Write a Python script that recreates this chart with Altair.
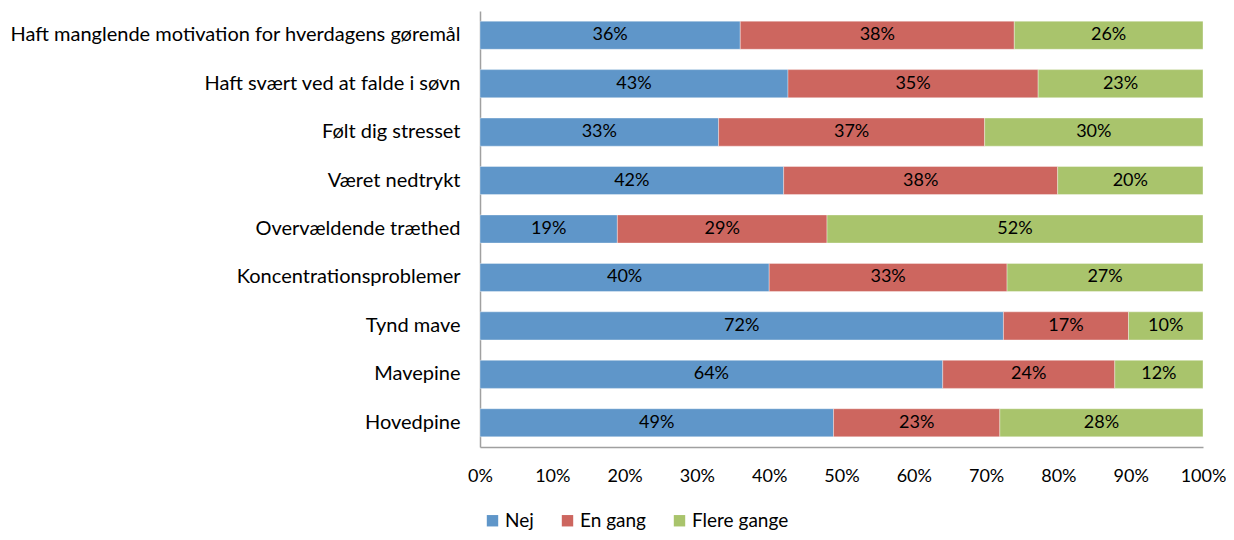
import altair as alt
import pandas as pd

categories = [
    "Haft manglende motivation for hverdagens gøremål",
    "Haft svært ved at falde i søvn",
    "Følt dig stresset",
    "Været nedtrykt",
    "Overvældende træthed",
    "Koncentrationsproblemer",
    "Tynd mave",
    "Mavepine",
    "Hovedpine",
]
series = ["Nej", "En gang", "Flere gange"]
nej = [36.0, 42.6, 33.0, 42.0, 19.0, 40.0, 72.4, 64.0, 48.9]
en_gang = [37.9, 34.6, 36.8, 37.9, 29.0, 32.9, 17.3, 23.8, 23.0]
flere_gange = [26.1, 22.8, 30.2, 20.1, 52.0, 27.1, 10.3, 12.2, 28.1]
colors = ["#5F96C9", "#CD665F", "#A9C46C"]
x_ticks = [0, 10, 20, 30, 40, 50, 60, 70, 80, 90, 100]

rows = []
for s_i, (name, vals) in enumerate(zip(series, [nej, en_gang, flere_gange])):
    for c, v in zip(categories, vals):
        rows.append({"cat": c, "serie": name, "order": s_i, "value": v,
                     "label": f"{int(round(v))}%"})
df = pd.DataFrame(rows)

FONT = "Lato"

base = alt.Chart(df).transform_stack(
    stack="value", groupby=["cat"], as_=["x0", "x1"],
    sort=[alt.SortField("order", order="ascending")]
).transform_calculate(mid="(datum.x0 + datum.x1) / 2")

y_enc = alt.Y("cat:N", sort=categories, title=None,
              scale=alt.Scale(paddingInner=0.42, paddingOuter=0.21),
              axis=alt.Axis(ticks=False, labelFontSize=20, labelFont=FONT,
                            labelColor="#000000", labelPadding=20,
                            domainColor="#A0A0A0", domainWidth=1.5,
                            labelLimit=600))

bars = base.mark_bar(stroke="#ffffff", strokeWidth=0.6, strokeOpacity=0.6).encode(
    x=alt.X("x0:Q", title=None,
            scale=alt.Scale(domain=[0, 100], nice=False, zero=True),
            axis=alt.Axis(values=x_ticks, labelExpr="datum.value + '%'",
                          ticks=False, grid=False, labelFontSize=18,
                          labelFont=FONT, labelColor="#000000",
                          labelFlush=False, labelOverlap=False,
                          labelPadding=20, domainColor="#A0A0A0",
                          domainWidth=1.5)),
    x2="x1:Q",
    y=y_enc,
    color=alt.Color("serie:N", scale=alt.Scale(domain=series, range=colors),
                    sort=series,
                    legend=alt.Legend(title=None, orient="none", direction="horizontal",
                                      legendX=3, legendY=500,
                                      symbolType="square", symbolSize=130,
                                      symbolStrokeWidth=0,
                                      labelFontSize=19, labelFont=FONT,
                                      labelColor="#000000", labelOffset=3,
                                      columnPadding=24)),
)

texts = base.mark_text(fontSize=18, font=FONT, color="#000000", baseline="middle").encode(
    x=alt.X("mid:Q"),
    y=alt.Y("cat:N", sort=categories),
    text="label:N",
)

chart = (bars + texts).properties(
    width=723, height=436,
    autosize=alt.AutoSizeParams(type="none"),
    padding={"left": 472, "top": 3, "right": 23, "bottom": 85},
).configure_view(stroke=None)

chart.save("out.html", embed_options={"renderer": "svg", "actions": False})
